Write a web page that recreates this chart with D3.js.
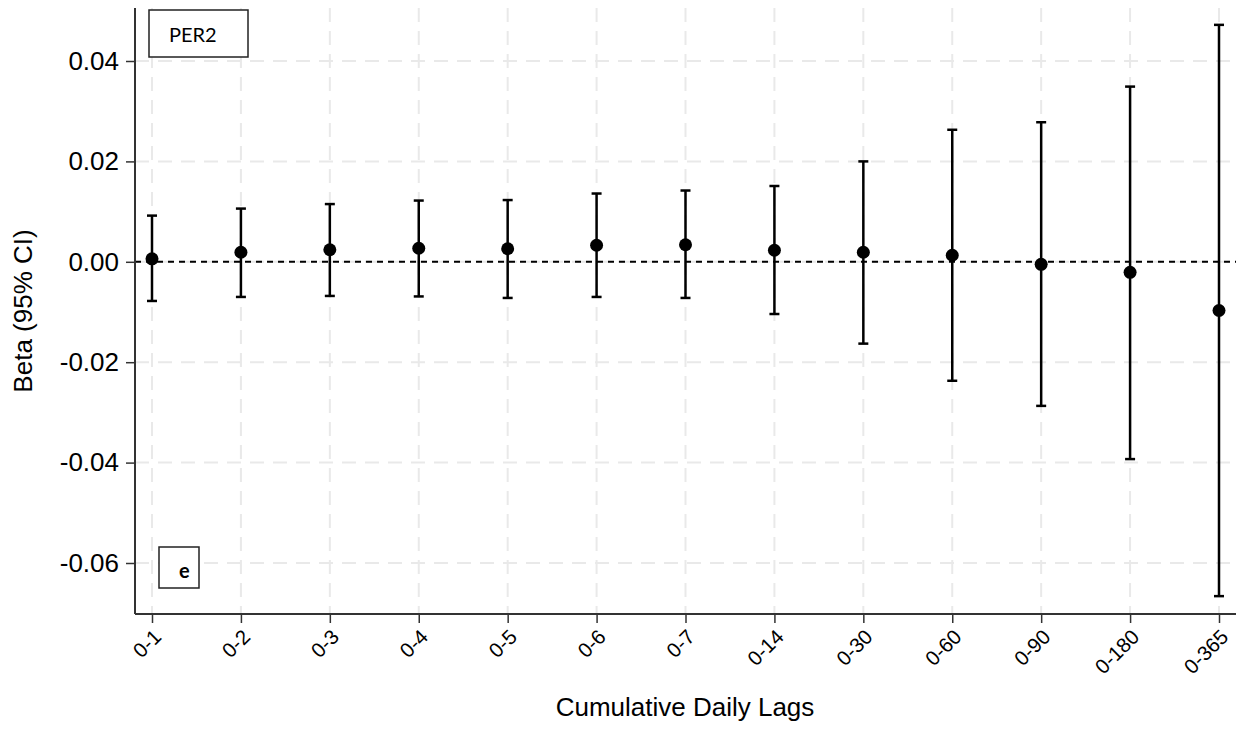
<!DOCTYPE html>
<html>
<head>
<meta charset="utf-8">
<script src="https://cdn.jsdelivr.net/npm/d3@7"></script>
<style>
  body { margin: 0; background: #fff; }
  svg { display: block; }
</style>
</head>
<body>
<div id="chart"></div>
<script>
const width = 1239;
const height = 729;

// data
const lags = ["0-1", "0-2", "0-3", "0-4", "0-5", "0-6", "0-7", "0-14", "0-30", "0-60", "0-90", "0-180", "0-365"];
const beta = [0.0006, 0.0019, 0.0024, 0.0027, 0.0026, 0.0033, 0.0034, 0.0023, 0.0019, 0.0013, -0.0005, -0.0021, -0.0097];
const lower = [-0.0078, -0.0070, -0.0068, -0.0069, -0.0072, -0.0070, -0.0072, -0.0104, -0.0163, -0.0237, -0.0287, -0.0393, -0.0666];
const upper = [0.0092, 0.0106, 0.0115, 0.0122, 0.0123, 0.0136, 0.0142, 0.0151, 0.0200, 0.0263, 0.0278, 0.0349, 0.0472];
const yTicks = [-0.06, -0.04, -0.02, 0, 0.02, 0.04];

const rows = lags.map((d, i) => ({ lag: d, b: beta[i], lo: lower[i], hi: upper[i] }));

const plot = { left: 135, right: 1236, top: 8, bottom: 614 };

const svg = d3.select('#chart')
    .append('svg')
    .attr('width', width)
    .attr('height', height);

const xScale = d3.scalePoint()
    .domain(lags)
    .range([152, 1219]);

const yScale = d3.scaleLinear()
    .domain([-0.06, 0.04])
    .range([563, 61]);

// grid lines
svg.append('g')
    .selectAll('line')
    .data(yTicks)
    .enter()
    .append('line')
    .attr('x1', plot.left)
    .attr('x2', plot.right)
    .attr('y1', d => yScale(d))
    .attr('y2', d => yScale(d))
    .attr('stroke', '#e9e9e9')
    .attr('stroke-width', 2)
    .attr('stroke-dasharray', '14,9');

svg.append('g')
    .selectAll('line')
    .data(lags)
    .enter()
    .append('line')
    .attr('x1', d => xScale(d))
    .attr('x2', d => xScale(d))
    .attr('y1', plot.top)
    .attr('y2', plot.bottom)
    .attr('stroke', '#e9e9e9')
    .attr('stroke-width', 2)
    .attr('stroke-dasharray', '14,9');

// zero reference line
svg.append('line')
    .attr('x1', plot.left)
    .attr('x2', plot.right)
    .attr('y1', yScale(0))
    .attr('y2', yScale(0))
    .attr('stroke', '#000')
    .attr('stroke-width', 2)
    .attr('stroke-dasharray', '6,5');

// axes
const yAxis = d3.axisLeft(yScale)
    .tickValues(yTicks)
    .tickFormat(d => d.toFixed(2)) // plain hyphen, like the original
    .tickSize(9)
    .tickPadding(7);
const gy = svg.append('g')
    .attr('transform', `translate(${plot.left},0)`)
    .call(yAxis);
gy.select('.domain').remove();
gy.selectAll('line').attr('stroke', '#333').attr('stroke-width', 1.5);
gy.selectAll('text')
    .attr('font-family', 'Liberation Sans, Arial, sans-serif')
    .attr('font-size', 26)
    .attr('fill', '#000');

const xAxis = d3.axisBottom(xScale)
    .tickSize(9)
    .tickPadding(4);
const gx = svg.append('g')
    .attr('transform', `translate(0,${plot.bottom})`)
    .call(xAxis);
gx.select('.domain').remove();
gx.selectAll('line').attr('stroke', '#333').attr('stroke-width', 1.5);
gx.selectAll('text')
    .attr('font-family', 'Liberation Sans, Arial, sans-serif')
    .attr('font-size', 20.5)
    .attr('fill', '#000')
    .attr('text-anchor', 'end')
    .attr('dy', '0.35em')
    .attr('transform', 'translate(5,19) rotate(-45)')
    .attr('y', 0)
    .attr('x', 0);

// axis lines
svg.append('line')
    .attr('x1', plot.left).attr('x2', plot.left)
    .attr('y1', plot.top).attr('y2', plot.bottom)
    .attr('stroke', '#333').attr('stroke-width', 2);
svg.append('line')
    .attr('x1', plot.left).attr('x2', plot.right)
    .attr('y1', plot.bottom).attr('y2', plot.bottom)
    .attr('stroke', '#333').attr('stroke-width', 2);

// error bars
const bars = svg.append('g');
bars.selectAll('.ci')
    .data(rows)
    .enter()
    .append('line')
    .attr('class', 'ci')
    .attr('x1', d => xScale(d.lag))
    .attr('x2', d => xScale(d.lag))
    .attr('y1', d => yScale(d.lo))
    .attr('y2', d => yScale(d.hi))
    .attr('stroke', '#000')
    .attr('stroke-width', 2.5);
bars.selectAll('.capHi')
    .data(rows)
    .enter()
    .append('line')
    .attr('class', 'capHi')
    .attr('x1', d => xScale(d.lag) - 5)
    .attr('x2', d => xScale(d.lag) + 5)
    .attr('y1', d => yScale(d.hi))
    .attr('y2', d => yScale(d.hi))
    .attr('stroke', '#000')
    .attr('stroke-width', 2.5);
bars.selectAll('.capLo')
    .data(rows)
    .enter()
    .append('line')
    .attr('class', 'capLo')
    .attr('x1', d => xScale(d.lag) - 5)
    .attr('x2', d => xScale(d.lag) + 5)
    .attr('y1', d => yScale(d.lo))
    .attr('y2', d => yScale(d.lo))
    .attr('stroke', '#000')
    .attr('stroke-width', 2.5);

// points
svg.append('g')
    .selectAll('circle')
    .data(rows)
    .enter()
    .append('circle')
    .attr('cx', d => xScale(d.lag))
    .attr('cy', d => yScale(d.b))
    .attr('r', 6.5)
    .attr('fill', '#000');

// axis titles
svg.append('text')
    .attr('x', 685)
    .attr('y', 716)
    .attr('text-anchor', 'middle')
    .attr('font-family', 'Liberation Sans, Arial, sans-serif')
    .attr('font-size', 26)
    .attr('fill', '#000')
    .text('Cumulative Daily Lags');

svg.append('text')
    .attr('transform', 'translate(32,311) rotate(-90)')
    .attr('text-anchor', 'middle')
    .attr('font-family', 'Liberation Sans, Arial, sans-serif')
    .attr('font-size', 26)
    .attr('fill', '#000')
    .text('Beta (95% CI)');

// label boxes
svg.append('rect')
    .attr('x', 149).attr('y', 10)
    .attr('width', 99).attr('height', 47)
    .attr('fill', '#fff')
    .attr('stroke', '#222')
    .attr('stroke-width', 1.5);
svg.append('text')
    .attr('x', 169).attr('y', 42)
    .attr('font-family', 'Lato, Open Sans, sans-serif')
    .attr('font-size', 20)
    .attr('fill', '#000')
    .text('PER2');

svg.append('rect')
    .attr('x', 159).attr('y', 547)
    .attr('width', 40).attr('height', 41)
    .attr('fill', '#fff')
    .attr('stroke', '#222')
    .attr('stroke-width', 1.5);
svg.append('text')
    .attr('x', 179).attr('y', 578)
    .attr('font-family', 'Lato, Open Sans, sans-serif')
    .attr('font-weight', 'bold')
    .attr('font-size', 20)
    .attr('fill', '#000')
    .text('e');
</script>
</body>
</html>
